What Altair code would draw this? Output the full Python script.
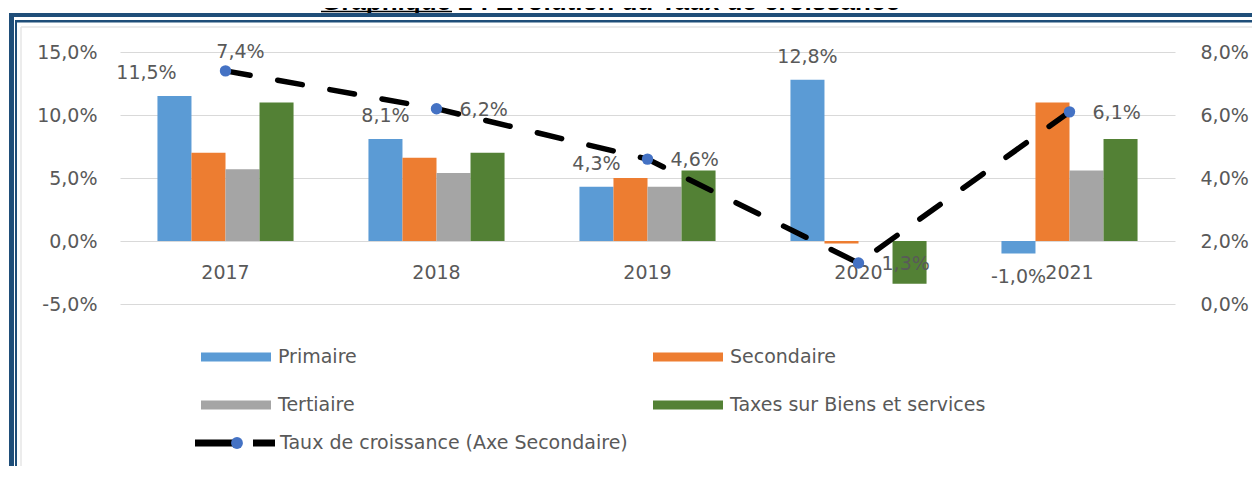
import altair as alt
import pandas as pd

# ---------------- data ----------------
years = ["2017", "2018", "2019", "2020", "2021"]
series = ["Primaire", "Secondaire", "Tertiaire", "Taxes sur Biens et services"]
primaire = [11.5, 8.1, 4.3, 12.8, -1.0]
secondaire = [7.0, 6.6, 5.0, -0.2, 11.0]
tertiaire = [5.7, 5.4, 4.3, 0.0, 5.6]
taxes = [11.0, 7.0, 5.6, -3.4, 8.1]
croissance = [7.4, 6.2, 4.6, 1.3, 6.1]
line_name = "Taux de croissance (Axe Secondaire)"
title_text = "Graphique 2 : Evolution du Taux de croissance"
left_ticks = [-5, 0, 5, 10, 15]
right_ticks = [0, 2, 4, 6, 8]

colors = ["#5B9BD5", "#ED7D31", "#A5A5A5", "#538135"]
FONT = "DejaVu Sans"
FS = 19
GRAY = "#595959"
FRAME = "#1F4E79"

rows = []
for s, vals in zip(series, [primaire, secondaire, tertiaire, taxes]):
    for y, v in zip(years, vals):
        rows.append({"annee": y, "serie": s, "valeur": v})
bars_df = pd.DataFrame(rows)
line_df = pd.DataFrame({"annee": years, "taux": croissance, "serie": [line_name] * len(years)})
years_df = pd.DataFrame({"annee": years})
one = pd.DataFrame({"k": [0]})


def pct(expr):
    return f"replace(replace(format({expr}, '.1f'), '.', ','), '\u2212', '-') + '%'"


fmt = pct("datum.value")

x_enc = alt.X("annee:N", scale=alt.Scale(domain=years, paddingInner=0.355, paddingOuter=0.1775), axis=None)
xoff = alt.XOffset("serie:N", scale=alt.Scale(domain=series, paddingInner=0, paddingOuter=0))

y_left = alt.Y(
    "valeur:Q",
    scale=alt.Scale(domain=[-5, 15], nice=False, zero=False),
    axis=alt.Axis(values=left_ticks, labelExpr=fmt, grid=True, gridColor="#D9D9D9", gridWidth=1,
                  domain=False, ticks=False, labelPadding=23, labelFont=FONT, labelFontSize=FS,
                  labelColor=GRAY, title=None),
)

rect_path = "M-1,-0.13L1,-0.13L1,0.13L-1,0.13Z"

bars = alt.Chart(bars_df).mark_bar().encode(
    x=x_enc,
    xOffset=xoff,
    y=y_left,
    y2=alt.datum(0),
    color=alt.Color(
        "serie:N",
        scale=alt.Scale(domain=series, range=colors),
        legend=alt.Legend(orient="none", legendX=81, legendY=270, direction="horizontal", columns=2,
                          columnPadding=296, rowPadding=3, symbolType=rect_path, symbolSize=4900,
                          symbolStrokeWidth=0, labelFont=FONT, labelFontSize=FS, labelColor=GRAY,
                          labelOffset=7, labelLimit=500, title=None, padding=0),
    ),
)

prim = alt.Chart(bars_df).transform_filter(alt.datum.serie == "Primaire").transform_calculate(
    lab=pct("datum.valeur")
)
txt = dict(font=FONT, fontSize=FS, color=GRAY, baseline="middle")
enc_lab = dict(x=x_enc, xOffset=xoff, y=alt.Y("valeur:Q"), text="lab:N")
lab_pos = prim.transform_filter((alt.datum.valeur >= 0) & (alt.datum.annee != "2017")).mark_text(dy=-23, **txt).encode(**enc_lab)
lab_neg = prim.transform_filter(alt.datum.valeur < 0).mark_text(dy=23, **txt).encode(**enc_lab)
lab_first = prim.transform_filter(alt.datum.annee == "2017").mark_text(dx=-28, dy=-23, **txt).encode(**enc_lab)

year_labels = alt.Chart(years_df).mark_text(**txt).encode(x=x_enc, y=alt.datum(-2.5), text="annee:N")

left = alt.layer(bars, lab_pos, lab_neg, lab_first, year_labels)

y_right = alt.Y(
    "taux:Q",
    scale=alt.Scale(domain=[0, 8], nice=False, zero=False),
    axis=alt.Axis(orient="right", values=right_ticks, labelExpr=fmt, grid=False, domain=False,
                  ticks=False, labelPadding=25, labelFont=FONT, labelFontSize=FS, labelColor=GRAY,
                  title=None),
)
lbase = alt.Chart(line_df).transform_calculate(lab=pct("datum.taux"))
line = lbase.mark_line(color="black", strokeWidth=5.5, strokeDash=[25, 28], strokeCap="round").encode(x=x_enc, y=y_right)
pts = lbase.mark_circle(color="#4472C4", size=130, opacity=1).encode(x=x_enc, y=alt.Y("taux:Q"))
llab = lbase.transform_filter(alt.datum.annee != "2017").mark_text(align="left", dx=23, dy=1, **txt).encode(
    x=x_enc, y=alt.Y("taux:Q"), text="lab:N")
llab1 = lbase.transform_filter(alt.datum.annee == "2017").mark_text(align="center", dx=15, dy=-19, **txt).encode(
    x=x_enc, y=alt.Y("taux:Q"), text="lab:N")
right = alt.layer(line, pts, llab, llab1)

# legend entries for the growth line (dashes + marker)
dash_path = "M-1,-0.09L-0.05,-0.09L-0.05,0.09L-1,0.09Z M0.45,-0.09L1,-0.09L1,0.09L0.45,0.09Z"
leg_dash = alt.Chart(line_df).transform_filter("false").mark_point(filled=True, color="black", opacity=1).encode(
    shape=alt.Shape("serie:N", scale=alt.Scale(domain=[line_name], range=[dash_path]),
                    legend=alt.Legend(orient="none", legendX=75, legendY=351, symbolSize=6400,
                                      symbolFillColor="black", symbolStrokeWidth=0, labelFont=FONT,
                                      labelFontSize=FS, labelColor=GRAY, labelOffset=5, labelLimit=600,
                                      title=None, padding=0))
)
leg_dot = alt.Chart(line_df).transform_filter("false").mark_point(filled=True, opacity=1).encode(
    fill=alt.Fill("serie:N", scale=alt.Scale(domain=[" "], range=["#4472C4"]),
                  legend=alt.Legend(orient="none", legendX=111, legendY=385, symbolSize=140,
                                    symbolType="circle", symbolStrokeWidth=0, labelOpacity=0,
                                    title=None, padding=0))
)

# title (cut at the top like the source), its underline, and the double frame
title = alt.Chart(one).mark_text(text=title_text, font="Liberation Sans", fontSize=26, fontWeight="bold",
                                 align="left", baseline="alphabetic", color="black").encode(
    x=alt.value(201), y=alt.value(-42.5))


def rule(x, x2, y, y2, w, c):
    return alt.Chart(one).mark_rule(strokeWidth=w, color=c).encode(
        x=alt.value(x), x2=alt.value(x2), y=alt.value(y), y2=alt.value(y2))


frame = [
    rule(201, 332, -40.5, -40.5, 1.5, "black"),
    rule(-99, 1140, -25, -25, 1.5, "#E6E6E6"),
    rule(-99, -99, -25, 430, 1.5, "#E6E6E6"),
    rule(-111, 1140, -37, -37, 4, FRAME),
    rule(-105, 1140, -30.7, -30.7, 2.5, FRAME),
    rule(-108.5, -108.5, -39, 430, 5, FRAME),
    rule(-104, -104, -32, 430, 2, FRAME),
]

chart = alt.layer(title, *frame, left, right, leg_dash, leg_dot).resolve_scale(
    y="independent"
).properties(
    width=1055, height=252,
    padding={"left": 112, "top": 44, "right": 77, "bottom": 162},
    autosize=alt.AutoSizeParams(type="none"),
    background="white",
).configure_view(stroke=None)

chart.save("out.html", embed_options={"renderer": "svg", "actions": False})
